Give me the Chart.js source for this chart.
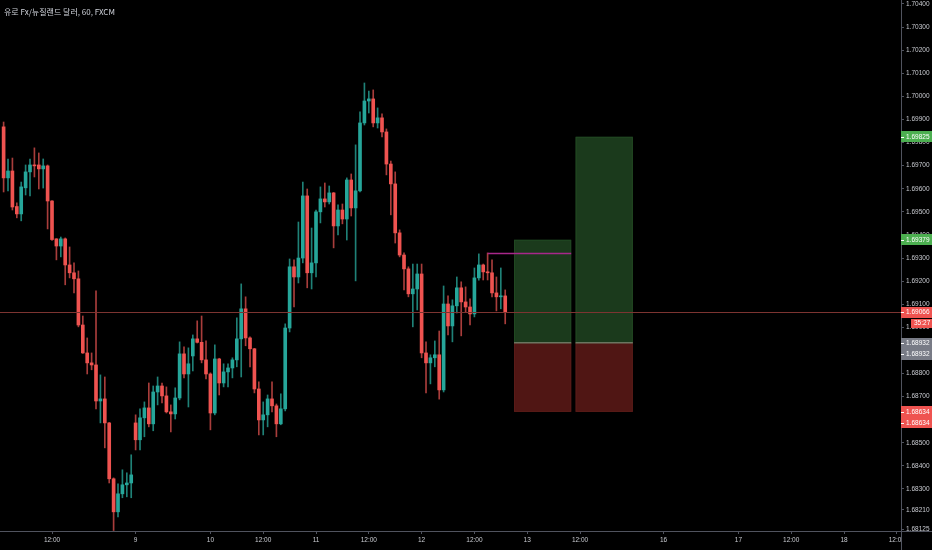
<!DOCTYPE html>
<html>
<head>
<meta charset="utf-8">
<script src="https://cdn.jsdelivr.net/npm/chart.js@4.4.1/dist/chart.umd.min.js"></script>
<style>
  html, body { margin: 0; padding: 0; background: #000; }
  canvas { display: block; }
</style>
</head>
<body>
<canvas id="grafico" width="932" height="550"></canvas>
<script>
const titulo = '유로 Fx/뉴질랜드 달러, 60, FXCM';

// velas de 1 hora (EUR/NZD, FXCM), da esquerda para a direita
const abertura = [
  1.69868, 1.69647, 1.69677, 1.69523, 1.69491, 1.69604, 1.69673, 1.69703, 1.69703, 1.69686,
  1.69699, 1.69547, 1.69383, 1.69352, 1.69383, 1.69270, 1.69236, 1.69210, 1.69010, 1.68889,
  1.68846, 1.68837, 1.68681, 1.68690, 1.68586, 1.68344, 1.68201, 1.68279, 1.68318, 1.68326,
  1.68586, 1.68513, 1.68608, 1.68651, 1.68582, 1.68720, 1.68746, 1.68703, 1.68634, 1.68625,
  1.68694, 1.68885, 1.68798, 1.68876, 1.68950, 1.68935, 1.68859, 1.68798, 1.68629, 1.68863,
  1.68759, 1.68807, 1.68824, 1.68859, 1.68950, 1.69080, 1.68954, 1.68907, 1.68733, 1.68599,
  1.68621, 1.68690, 1.68660, 1.68582, 1.68647, 1.68997, 1.69262, 1.69218, 1.69300, 1.69569,
  1.69236, 1.69279, 1.69500, 1.69556, 1.69543, 1.69582, 1.69439, 1.69508, 1.69469, 1.69638,
  1.69517, 1.69591, 1.69885, 1.69980, 1.69989, 1.69885, 1.69907, 1.69846, 1.69707, 1.69621,
  1.69409, 1.69313, 1.69253, 1.69145, 1.69166, 1.69231, 1.68889, 1.68846, 1.68868, 1.68881,
  1.68729, 1.69101, 1.69006, 1.69093, 1.69171, 1.69110, 1.69088, 1.69058, 1.69214, 1.69270,
  1.69240, 1.69236, 1.69149, 1.69132, 1.69136
];
const maxima = [
  1.69889, 1.69729, 1.69733, 1.69539, 1.69629, 1.69703, 1.69729, 1.69777, 1.69755, 1.69729,
  1.69703, 1.69549, 1.69384, 1.69391, 1.69387, 1.69348, 1.69279, 1.69244, 1.69049, 1.68954,
  1.68889, 1.69158, 1.68794, 1.68785, 1.68588, 1.68348, 1.68322, 1.68383, 1.68370, 1.68448,
  1.68621, 1.68647, 1.68677, 1.68759, 1.68746, 1.68785, 1.68759, 1.68742, 1.68664, 1.68738,
  1.68937, 1.68915, 1.68911, 1.68967, 1.69028, 1.69049, 1.68941, 1.68803, 1.68924, 1.68866,
  1.68842, 1.68842, 1.68868, 1.69041, 1.69188, 1.69132, 1.68959, 1.68909, 1.68764, 1.68677,
  1.68707, 1.68764, 1.68668, 1.68712, 1.69015, 1.69296, 1.69292, 1.69456, 1.69629, 1.69599,
  1.69430, 1.69508, 1.69608, 1.69625, 1.69612, 1.69584, 1.69530, 1.69534, 1.69647, 1.69664,
  1.69790, 1.69933, 1.70058, 1.70023, 1.70028, 1.69950, 1.69924, 1.69859, 1.69720, 1.69673,
  1.69422, 1.69322, 1.69262, 1.69274, 1.69274, 1.69274, 1.68937, 1.68881, 1.68941, 1.68984,
  1.69179, 1.69136, 1.69119, 1.69218, 1.69197, 1.69175, 1.69123, 1.69257, 1.69318, 1.69274,
  1.69322, 1.69292, 1.69218, 1.69257, 1.69162
];
const minima = [
  1.69586, 1.69591, 1.69508, 1.69474, 1.69461, 1.69573, 1.69569, 1.69651, 1.69599, 1.69603,
  1.69426, 1.69376, 1.69292, 1.69305, 1.69184, 1.69214, 1.69149, 1.69002, 1.68887, 1.68798,
  1.68816, 1.68647, 1.68586, 1.68478, 1.68326, 1.68120, 1.68179, 1.68262, 1.68266, 1.68262,
  1.68469, 1.68469, 1.68526, 1.68569, 1.68552, 1.68664, 1.68673, 1.68629, 1.68547, 1.68603,
  1.68686, 1.68781, 1.68655, 1.68811, 1.68932, 1.68846, 1.68777, 1.68556, 1.68621, 1.68707,
  1.68742, 1.68742, 1.68781, 1.68829, 1.68785, 1.68920, 1.68829, 1.68716, 1.68534, 1.68534,
  1.68569, 1.68634, 1.68526, 1.68578, 1.68638, 1.68980, 1.69088, 1.69192, 1.69279, 1.69171,
  1.69166, 1.69218, 1.69452, 1.69521, 1.69534, 1.69344, 1.69400, 1.69448, 1.69378, 1.69482,
  1.69201, 1.69586, 1.69876, 1.69928, 1.69868, 1.69863, 1.69824, 1.69660, 1.69487, 1.69365,
  1.69305, 1.69162, 1.69132, 1.69002, 1.69075, 1.68868, 1.68716, 1.68755, 1.68829, 1.68689,
  1.68720, 1.68967, 1.68937, 1.69062, 1.68963, 1.69066, 1.69010, 1.69045, 1.69204, 1.69205,
  1.69205, 1.69132, 1.69071, 1.69080, 1.69015
];
const fecho = [
  1.69647, 1.69677, 1.69521, 1.69491, 1.69608, 1.69673, 1.69703, 1.69699, 1.69686, 1.69699,
  1.69547, 1.69380, 1.69352, 1.69383, 1.69270, 1.69236, 1.69210, 1.69010, 1.68889, 1.68846,
  1.68837, 1.68681, 1.68690, 1.68586, 1.68344, 1.68201, 1.68279, 1.68318, 1.68326, 1.68361,
  1.68513, 1.68608, 1.68651, 1.68582, 1.68720, 1.68746, 1.68703, 1.68634, 1.68625, 1.68694,
  1.68885, 1.68798, 1.68842, 1.68950, 1.68935, 1.68859, 1.68798, 1.68629, 1.68863, 1.68759,
  1.68807, 1.68824, 1.68859, 1.68950, 1.69080, 1.68954, 1.68907, 1.68733, 1.68599, 1.68621,
  1.68690, 1.68660, 1.68582, 1.68647, 1.68997, 1.69262, 1.69218, 1.69300, 1.69569, 1.69236,
  1.69279, 1.69500, 1.69556, 1.69543, 1.69582, 1.69439, 1.69508, 1.69469, 1.69638, 1.69517,
  1.69591, 1.69885, 1.69980, 1.69989, 1.69885, 1.69907, 1.69846, 1.69707, 1.69621, 1.69409,
  1.69313, 1.69253, 1.69145, 1.69166, 1.69231, 1.68889, 1.68846, 1.68868, 1.68881, 1.68729,
  1.69101, 1.69006, 1.69093, 1.69171, 1.69110, 1.69088, 1.69058, 1.69214, 1.69270, 1.69240,
  1.69236, 1.69149, 1.69132, 1.69136, 1.69066
];

// eixo do tempo: posição em número de velas e o texto
const xTickIdx = [11, 30, 47, 59, 71, 83, 95, 107, 119, 131, 150, 167, 179, 191, 203];
const xTickLabels = ['12:00', '9', '10', '12:00', '11', '12:00', '12', '12:00', '13', '12:00', '16', '17', '12:00', '18', '12:00'];

// eixo do preço
const yTickValues = [1.70400, 1.70300, 1.70200, 1.70100, 1.70000, 1.69900, 1.69800, 1.69700, 1.69600,
  1.69500, 1.69400, 1.69300, 1.69200, 1.69100, 1.69000, 1.68900, 1.68800, 1.68700, 1.68600, 1.68500,
  1.68400, 1.68300, 1.68210, 1.68125];

// preço atual e ferramenta de posição longa
const precoAtual = 1.69066;
const contador = '35:27';
const entrada = 1.68932;
const stopLoss = 1.68634;
const alvos = [1.69379, 1.69825];
const caixasInicio = [116, 130];
const caixasFim = [129, 143];
const linhaRosa = 1.69322;
const linhaRosaDe = 110;
const linhaRosaAte = 129;

const VERDE = '#26a69a';
const VERMELHO = '#ef5350';
const fonteEixo = '6.5px "Liberation Sans"';

const sobe = abertura.map((o, i) => fecho[i] >= o);

const pavios = abertura.map((o, i) => ({ x: i, y: [minima[i], maxima[i]] }));
const corpos = abertura.map((o, i) => ({ x: i, y: [o, fecho[i]] }));

function etiqueta(ctx, y, texto, cor, x0, w, h) {
  ctx.fillStyle = cor;
  ctx.fillRect(x0, Math.round(y - h / 2), w, h);
  ctx.fillStyle = '#ffffff';
  ctx.fillRect(x0, Math.round(y), 3, 1);
  ctx.font = fonteEixo;
  ctx.textAlign = 'left';
  ctx.textBaseline = 'middle';
  ctx.fillText(texto, x0 + 5, y + 0.5);
}

const desenhos = {
  id: 'desenhos',
  beforeDraw(chart) {
    const ctx = chart.ctx;
    ctx.save();
    ctx.fillStyle = '#000';
    ctx.fillRect(0, 0, chart.width, chart.height);
    ctx.restore();
  },
  beforeDatasetsDraw(chart) {
    const ctx = chart.ctx;
    const xs = chart.scales.x, ys = chart.scales.y;
    ctx.save();
    const yE = ys.getPixelForValue(entrada);
    const yS = ys.getPixelForValue(stopLoss);
    for (let k = 0; k < caixasInicio.length; k++) {
      const x1 = xs.getPixelForValue(caixasInicio[k]);
      const x2 = xs.getPixelForValue(caixasFim[k]);
      const yA = ys.getPixelForValue(alvos[k]);
      ctx.fillStyle = '#1b3a1c';
      ctx.fillRect(x1, yA, x2 - x1, yE - yA);
      ctx.strokeStyle = '#214822';
      ctx.lineWidth = 1;
      ctx.strokeRect(x1 + 0.5, yA + 0.5, x2 - x1 - 1, yE - yA);
      ctx.fillStyle = '#501614';
      ctx.fillRect(x1, yE, x2 - x1, yS - yE);
      ctx.strokeStyle = '#5a1c19';
      ctx.strokeRect(x1 + 0.5, yE, x2 - x1 - 1, yS - yE - 0.5);
      ctx.fillStyle = '#6b7560';
      ctx.fillRect(x1, Math.round(yE) - 1, x2 - x1, 1.5);
    }
    ctx.restore();
  },
  afterDatasetsDraw(chart) {
    const ctx = chart.ctx;
    const xs = chart.scales.x, ys = chart.scales.y, area = chart.chartArea;
    ctx.save();
    // linha rosa
    const yR = Math.round(ys.getPixelForValue(linhaRosa)) + 0.5;
    ctx.strokeStyle = '#a8278a';
    ctx.lineWidth = 1.5;
    ctx.beginPath();
    ctx.moveTo(xs.getPixelForValue(linhaRosaDe), yR);
    ctx.lineTo(xs.getPixelForValue(linhaRosaAte), yR);
    ctx.stroke();
    // linha do preço atual
    const yP = Math.round(ys.getPixelForValue(precoAtual)) + 0.5;
    ctx.strokeStyle = '#7d3431';
    ctx.lineWidth = 1;
    ctx.beginPath();
    ctx.moveTo(area.left, yP);
    ctx.lineTo(area.right, yP);
    ctx.stroke();
    ctx.restore();
  },
  afterDraw(chart) {
    const ctx = chart.ctx;
    const ys = chart.scales.y, area = chart.chartArea;
    const x0 = area.right;
    const w = chart.width - x0;
    ctx.save();
    // título
    ctx.fillStyle = '#d1d4dc';
    ctx.font = '8px "Noto Sans CJK KR"';
    ctx.textAlign = 'left';
    ctx.textBaseline = 'middle';
    ctx.fillText(titulo, 4, 12);
    // canto inferior direito
    ctx.fillStyle = '#000';
    ctx.fillRect(x0 + 1, area.bottom + 3, w, chart.height - area.bottom);
    ctx.strokeStyle = '#50535e';
    ctx.lineWidth = 1;
    ctx.beginPath();
    ctx.moveTo(x0 + 0.5, area.bottom);
    ctx.lineTo(x0 + 0.5, chart.height);
    ctx.moveTo(x0, area.bottom + 0.5);
    ctx.lineTo(chart.width, area.bottom + 0.5);
    ctx.stroke();
    // etiquetas de preço
    alvos.forEach(a => etiqueta(ctx, ys.getPixelForValue(a), a.toFixed(5), '#4caf50', x0, w, 11));
    const yP = ys.getPixelForValue(precoAtual);
    etiqueta(ctx, yP, precoAtual.toFixed(5), VERMELHO, x0, w, 11);
    ctx.fillStyle = VERMELHO;
    ctx.fillRect(x0 + 10, Math.round(yP) + 7, w - 10, 9);
    ctx.fillStyle = '#ffffff';
    ctx.font = fonteEixo;
    ctx.fillText(contador, x0 + 13, Math.round(yP) + 11.5);
    const yE = ys.getPixelForValue(entrada);
    etiqueta(ctx, yE, entrada.toFixed(5), '#787b86', x0, w, 11);
    etiqueta(ctx, yE + 11, entrada.toFixed(5), '#787b86', x0, w, 11);
    const yS = ys.getPixelForValue(stopLoss);
    etiqueta(ctx, yS, stopLoss.toFixed(5), VERMELHO, x0, w, 11);
    etiqueta(ctx, yS + 11, stopLoss.toFixed(5), VERMELHO, x0, w, 11);
    ctx.restore();
  }
};

const ctx = document.getElementById('grafico').getContext('2d');

const config = {
  type: 'bar',
  data: {
    datasets: [{
      label: 'pavio',
      data: pavios,
      backgroundColor: sobe.map(s => s ? '#1f8177' : '#a83d3b'),
      barThickness: 1,
      grouped: false,
      order: 2
    }, {
      label: 'corpo',
      data: corpos,
      backgroundColor: sobe.map(s => s ? VERDE : VERMELHO),
      barThickness: 3,
      minBarLength: 1,
      grouped: false,
      order: 1
    }]
  },
  options: {
    responsive: false,
    animation: false,
    devicePixelRatio: 1,
    layout: { padding: 0 },
    plugins: {
      legend: { display: false },
      tooltip: { enabled: false },
      title: { display: false }
    },
    scales: {
      x: {
        type: 'linear',
        min: -0.82,
        max: 203.95,
        offset: false,
        grid: { drawOnChartArea: false, drawTicks: true, tickLength: 3, color: '#50535e', offset: false },
        border: { color: '#50535e' },
        ticks: {
          autoSkip: false,
          maxRotation: 0,
          padding: 2,
          color: '#c8cad0',
          font: { family: 'Liberation Sans', size: 6.5 },
          callback: (v, i) => xTickLabels[i]
        },
        afterBuildTicks: s => { s.ticks = xTickIdx.map(v => ({ value: v })); },
        afterFit: s => { s.height = 19; s.paddingLeft = 0; s.paddingRight = 0; }
      },
      y: {
        position: 'right',
        min: 1.68118,
        max: 1.704173,
        grid: { drawOnChartArea: false, drawTicks: true, tickLength: 3, color: '#50535e' },
        border: { color: '#50535e' },
        ticks: {
          padding: 2,
          color: '#c8cad0',
          font: { family: 'Liberation Sans', size: 6.5 },
          callback: v => Number(v).toFixed(5)
        },
        afterBuildTicks: s => { s.ticks = yTickValues.map(v => ({ value: v })); },
        afterFit: s => { s.width = 31; s.paddingTop = 0; s.paddingBottom = 0; }
      }
    }
  },
  plugins: [desenhos]
};

const grafico = new Chart(ctx, config);
</script>
</body>
</html>
